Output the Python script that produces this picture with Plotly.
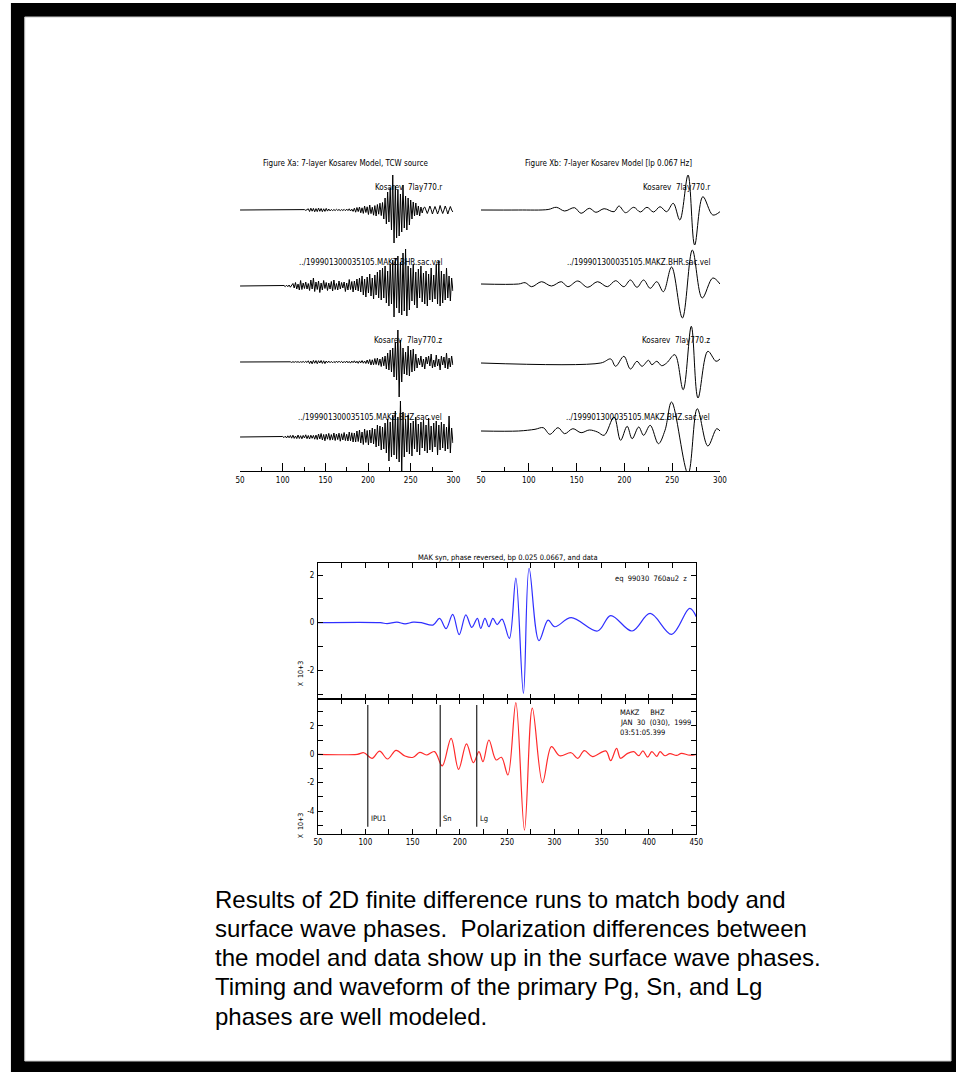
import numpy as np
import plotly.graph_objects as go

W, H = 963, 1072
def px(x): return x / W
def py(y): return 1 - y / H

FONT = "Liberation Sans Narrow, DejaVu Sans Condensed, Arial Narrow, sans-serif"

# ---------------- DATA ----------------
# Top-left broadband traces: samples every 1.5 s starting at 100 s (flat before)
bb_start, bb_dt = 100.0, 1.5
kos_r = [0, 0.3, -0.3, 0.2, -0.2, 0.3, -0.3, 0.2, -0.2, 0.3, -0.3, 0.2, -0.3, 0.3, -0.2, 0.3, -0.3, 0.4, -0.4, 0.5,
         1.2, -1.5, 1.8, -1.2, 1.6, -1.8, 1.4, -1.6, 1.9, -1.3, 1.5, -1.7, 1.2, -1.4, 1.6, -1.1, 1.0, -0.9,
         0.5, -0.6, 0.4, -0.5, 0.7, -0.4, 0.5, -0.6, 0.4, -0.5, 0.6, -0.7, 0.9, -0.6, 1.2, -1.0, 0.8, -1.4,
         1.8, -2.2, 2.5, -1.6, 3.0, -2.8, 2.2, -3.4, 4.0, -2.5, 3.2, -4.5, 5.0, -3.6, 2.8, -5.2, 4.4, -6.0, 5.5, -4.2, 6.8, -5.6, 7.5,
         -9, 12, -14, 18, -12, 22, -20, 35, -33, 24, -28, 20, -26, 16, -22, 25, -18, 14, -20, 12, -15, 10, -9,
         8, -6, 7, -5, 4, -6, 3, -3, 2,
         3, 0, -3.5, 0, 4, 0.5, -4, 0, 3.5, 0, -4, -0.5, 4.5, 0, -3.5, 0, 4, 0.5, -4, 0, 3.5, 0, -2]
mak_bhr = [0, 0.5, -0.6, 0.8, -0.7, 1.0, -1.2, 1.5,
           2.5, -2.0, 3.5, -3.0, 2.0, -4.0, 5.5, -3.5, 3.0, -2.5, 4.0, -3.0, 2.5,
           -4.5, 6.0, -3.0, 8.0, -5.5, 4.0, -3.5, 5.0, -6.5, 3.0, -4.0, 5.5, -2.5, 3.5, -4.5, 3.0, -3.0, 4.5, -5.0, 6.0,
           -3.5, 2.5, -4.0, 5.0, -3.0, 3.5, -2.0, 4.0, -5.5, 3.0, -4.0, 6.5, -3.5, 4.5, -6.0, 5.0, -4.0, 7.0, -5.0,
           8, -6, 10, -9, 7, -11, 9, -7, 12, -10, 8, -13, 11, -9, 14, -12,
           16, -14, 18, -12, 20, -17, 15, -20, 22, -18,
           26, -31, 28, -22, 30, -27, 24, -29, 33, -25, 37,
           -30, 20, -24, 18, -15, 22, -19, 14, -22, 17, -12, 20, -16, 13, -18, 15, -20, 12, -14, 18,
           -16, 11, -13, 22, -18, 25, -20, 15, -17, 12, -14, 18, -12, 10, -15, 8, -5]
kos_z = [0.2, -0.3, 0.3, -0.2, 0.4, -0.3, 0.2, -0.4, 0.3, -0.3, 0.4, -0.2, 0.3, -0.4, 0.3, -0.3, 0.5, -0.4, 0.6, -0.5,
         1.2, -1.5, 1.0, -1.8, 1.6, -1.2, 1.4, -1.7, 1.3, -1.0, 1.5, -1.4, 1.2, -1.6, 1.0, -0.8, 0.9, -0.7,
         0.6, -0.8, 0.5, -0.7, 0.9, -0.6, 0.8, -0.5, 0.7, -0.9, 0.6, -0.7, 1.0, -0.8, 0.6, -1.1, 0.9, -0.7, 1.2, -1.0,
         0.8, -1.3, 1.1, -0.9, 1.4, -1.2, 1.0, -1.5,
         2.0, -1.6, 2.5, -3.0, 2.2, -2.8, 3.5, -2.5, 4.0, -3.2, 3.0, -4.5, 5.0, -3.8, 6.0,
         -7, 9, -8, 12, -10, 14,
         -15, 20, -18, 32, -35, 22, -20,
         14, -12, 10, -13, 16,
         -14, 12, -10, 13, -9, 8,
         -6, 4, -3, 6, -5, 3, -7, 5, -2, 6, -4, 8, -6, 2, -5, 7, -4, 3, -8, 6, -3, 5, -6, 9, -7, 4, -5, 6, -3]
mak_bhz = [0.5, -0.6, 0.8, -1.0, 1.2, -0.8, 1.5, -1.2, 1.8, -1.4, 1.0, -1.6, 2.0, -1.5, 1.3, -1.8, 1.6, -1.0, 2.2, -1.7,
           1.5, -2.0, 1.8, -1.3, 1.6, -2.2, 1.9,
           -2.5, 3.0, -2.0, 3.5, -3.0, 2.5, -3.8, 2.8, -2.2, 3.6, -3.2, 2.4, -2.8, 4.0, -3.5, 3.0, -2.6, 3.8, -4.2, 3.2,
           -3.0, 4.5, -3.6, 2.8, -4.0, 5.0, -3.8, 4.2, -5.0, 4.0,
           -5, 6, -4.5, 7, -6, 5, -7.5, 8, -5.5, 6.5, -8, 7, -6, 9, -7, 8,
           -10, 12, -9, 11, -13, 10, -12, 14,
           -16, 18, -24, 15, -20, 22, -18, 26, -22, 20, -25, 36, -34,
           25, -20, 18, -15, 22, -17, 14, -19, 16, -12, 20, -15, 13, -18, 15, -11, 17, -14, 12, -16,
           19, -13, 11, -15, 14, -10, 16, -18, 12, -13, 15, -11, 13, -14, 10, -12, 21, -16, 9, -6]

# Top-right low-passed traces (time in s, amplitude)
lp_r_t = [50, 89.3, 120.2, 128.8, 137.5, 147.8, 154.7, 163.3, 170.2, 178.8, 189.2, 194.3, 201.2, 209.8, 216.7,
          223.6, 230.5, 237.3, 244.2, 251.1, 258.0, 266.6, 273.5, 282.1, 292.5, 300]
lp_r_v = [0, 0, 0.5, 2.7, -1.0, 2.3, -3.3, 1.7, -2.3, 1.3, -1.7, 4.0, -2.7, 2.7, -2.0,
          2.7, -2.0, 3.3, -1.7, 6.7, -10, 35, -35, 13.3, -5, -1.7]
lp_bhr_t = [50, 89.3, 96.2, 103.0, 113.3, 123.7, 134.0, 140.9, 151.2, 161.6, 171.9, 182.2, 190.8, 199.5, 206.3,
            213.2, 220.1, 227.0, 233.9, 240.8, 249.4, 260.7, 271.1, 281.4, 292.5, 300]
lp_bhr_v = [0, 0, 1.3, -2.7, 2.3, -2.0, 2.3, -2.7, 3.0, -3.3, 2.3, -2.7, 3.3, -2.7, 4.0,
            -3.3, 4.0, -4.3, 2.3, -7.7, 17, -34, 34, -14, 6, 0]
lp_z_t = [50, 175.3, 185.7, 190.8, 199.5, 206.3, 213.2, 218.4, 225.3, 228.7, 233.9, 239.0, 244.2, 252.8, 261.5,
          270.0, 277.0, 287.3, 295.9, 300]
lp_z_v = [0, 0, 4, -3.3, 6.7, -6, 1.7, -3.3, 2.7, -1.7, 1.7, -2.7, 0, 8.3, -26.7,
          36.7, -35, 11.7, 1.7, 4]
lp_bhz_t = [50, 89.3, 106.5, 115.1, 122.0, 130.6, 137.5, 146.1, 154.7, 163.3, 171.9, 178.8, 189.2, 196.0, 202.9,
            208.1, 215.0, 220.1, 227.0, 235.6, 242.5, 249.4, 266.6, 276.2, 287.3, 296.6, 300]
lp_bhz_v = [0, 0, 1.7, 3.3, -3.3, 3.3, -2.7, 2.3, -1.7, 1.0, -1.0, -4.3, 14, -9.3, 4.7,
            -7.7, 4.0, -4.3, 5.7, -12.7, 0.7, 29, -42.7, 22.3, -15, 2.3, 0]

# Bottom: synthetic (blue) and data (red), x 10^3
syn_t = [50, 115.8, 123.0, 133.4, 142.0, 150.6, 159.3, 171.5, 178.5, 185.4, 192.4, 199.3, 206.3, 212.6, 218.5,
         222.0, 226.5, 230.7, 234.9, 239.4, 244.6, 252.3, 259.2, 267.2, 273.2, 283.6, 293.3, 300.3, 317.7,
         345.6, 359.5, 382.1, 401.2, 423.9, 443.0, 450]
syn_v = [0, 0, -0.04, 0.02, -0.05, 0.02, 0, -0.1, 0.18, -0.25, 0.35, -0.5, 0.33, -0.2, 0.18,
         -0.24, 0.18, -0.17, 0.18, -0.08, 0.15, -0.66, 1.87, -2.97, 2.29, -0.76, 0.11, -0.17, 0.21,
         -0.35, 0.3, -0.35, 0.39, -0.49, 0.6, 0.25]
dat_t = [50, 91.4, 98.4, 107.1, 115.1, 123.5, 132.5, 141.9, 150.6, 157.6, 164.6, 173.2, 181.3, 190.7, 198.6,
         207.0, 214.3, 220.2, 224.4, 230.7, 238.3, 243.9, 250.8, 259.2, 268.3, 276.6, 287.4, 296.8, 305.5,
         317.7, 324.7, 331.6, 340.3, 354.3, 359.5, 365.7, 369.9, 376.9, 383.9, 389.1, 393.6, 398.5, 403.0,
         408.2, 411.7, 416.9, 422.1, 429.1, 434.3, 443.0, 450]
dat_v = [0, 0, 0.11, -0.28, 0.23, -0.33, 0.28, -0.12, -0.21, 0.14, -0.05, 0.19, -0.82, 1.13, -1.06,
         0.73, -0.59, 0.19, -0.52, 1.01, -0.4, -0.21, -1.46, 3.65, -5.34, 3.25, -2.0, 0.54, -0.1,
         0.11, -0.28, 0.26, -0.16, 0.24, -0.45, 0.42, -0.28, 0.05, 0.19, -0.1, 0.24, -0.2, 0.19,
         -0.14, 0.19, -0.1, 0.05, -0.08, 0.07, -0.06, 0]
pick_times = [102.6, 179.2, 217.8]
pick_names = ["IPU1", "Sn", "Lg"]

top_tickvals = [50, 100, 150, 200, 250, 300]
top_ticktext = ["50", "100", "150", "200", "250", "300"]
bot_tickvals = list(range(50, 451, 25))
bot_ticktext = [str(v) if v % 50 == 0 else "" for v in bot_tickvals]
syn_yvals = [-3, -2, -1, 0, 1, 2]
syn_ytext = ["", "-2", "", "0", "", "2"]
dat_yvals = [-5, -4, -3, -2, -1, 0, 1, 2, 3]
dat_ytext = ["", "-4", "", "-2", "", "0", "", "2", ""]

left_labels = ["Kosarev  7lay770.r", "../199901300035105.MAKZ.BHR.sac.vel",
               "Kosarev  7lay770.z", "../199901300035105.MAKZ.BHZ.sac.vel"]

# ---------------- FIGURE ----------------
fig = go.Figure()

def bb_series(vals):
    t = bb_start + bb_dt * np.arange(len(vals))
    return np.concatenate([[50.0], t]), np.concatenate([[0.0], np.asarray(vals, float)])

left_sets = [kos_r, mak_bhr, kos_z, mak_bhz]
for i, vals in enumerate(left_sets):
    t, v = bb_series(vals)
    fig.add_trace(go.Scatter(x=t, y=v, mode="lines", line=dict(color="black", width=1),
                             xaxis="x", yaxis="y" if i == 0 else f"y{i+1}", showlegend=False))

right_sets = [(lp_r_t, lp_r_v), (lp_bhr_t, lp_bhr_v), (lp_z_t, lp_z_v), (lp_bhz_t, lp_bhz_v)]
for i, (t, v) in enumerate(right_sets):
    fig.add_trace(go.Scatter(x=t, y=v, mode="lines", line=dict(color="black", width=1, shape="spline", smoothing=1.0),
                             xaxis="x2", yaxis=f"y{i+5}", showlegend=False))

fig.add_trace(go.Scatter(x=syn_t, y=syn_v, mode="lines",
                         line=dict(color="#2f2fff", width=1.2, shape="spline", smoothing=1.0),
                         xaxis="x3", yaxis="y9", showlegend=False))
fig.add_trace(go.Scatter(x=dat_t, y=dat_v, mode="lines",
                         line=dict(color="#ff2a2a", width=1.2, shape="spline", smoothing=1.0),
                         xaxis="x4", yaxis="y10", showlegend=False))
for tp in pick_times:
    fig.add_trace(go.Scatter(x=[tp, tp], y=[-5.11, 3.48], mode="lines",
                             line=dict(color="#222", width=1.2), xaxis="x4", yaxis="y10", showlegend=False))

layout = dict(
    width=W, height=H, margin=dict(l=0, r=0, t=0, b=0),
    paper_bgcolor="white", plot_bgcolor="rgba(0,0,0,0)",
    font=dict(family=FONT, size=8, color="black"),
)

def top_x(d0, d1):
    return dict(domain=[px(d0), px(d1)], range=[50, 300], anchor="free", position=py(471),
                showline=True, linecolor="black", linewidth=1, ticks="inside", ticklen=8,
                tickwidth=1, tickcolor="black", tickvals=top_tickvals, ticktext=top_ticktext,
                minor=dict(tickvals=[75, 125, 175, 225, 275], ticklen=4, ticks="inside", tickcolor="black"),
                showgrid=False, zeroline=False, tickfont=dict(size=8, family=FONT), ticklabelstandoff=1)

layout["xaxis"] = top_x(238, 454)
layout["xaxis2"] = top_x(482, 724)

left_base = [210, 286, 362, 437]
right_base = [210, 284, 363, 431]
for i, b in enumerate(left_base + right_base):
    key = "yaxis" if i == 0 else f"yaxis{i+1}"
    layout[key] = dict(domain=[py(b + 40), py(b - 40)], range=[-40, 40], visible=False,
                       anchor="x" if i < 4 else "x2", fixedrange=True)

box = dict(showline=True, linecolor="black", linewidth=1, mirror="ticks", ticks="inside",
           ticklen=5, tickcolor="black", showgrid=False, zeroline=False)
layout["xaxis3"] = dict(box, domain=[px(317), px(700)], range=[50, 450], anchor="y9",
                        tickvals=bot_tickvals, ticktext=bot_ticktext, showticklabels=False)
layout["yaxis9"] = dict(box, domain=[py(699), py(563)], range=[-3.21, 2.51], anchor="x3",
                        tickvals=syn_yvals, ticktext=syn_ytext, tickfont=dict(size=8), ticklabelstandoff=1)
layout["xaxis4"] = dict(box, domain=[px(317), px(700)], range=[50, 450], anchor="y10",
                        tickvals=bot_tickvals, ticktext=bot_ticktext, tickfont=dict(size=8), ticklabelstandoff=0)
layout["yaxis10"] = dict(box, domain=[py(834), py(699)], range=[-5.62, 3.9], anchor="x4",
                         tickvals=dat_yvals, ticktext=dat_ytext, tickfont=dict(size=8), ticklabelstandoff=1)

ann = []
def A(text, x, y, size=8, xa="center", ya="middle", angle=0, family=FONT):
    ann.append(dict(text=text, x=px(x), y=py(y), xref="paper", yref="paper", showarrow=False,
                    xanchor=xa, yanchor=ya, textangle=angle, font=dict(size=size, family=family, color="black")))

A("Figure Xa: 7-layer Kosarev Model, TCW source", 345, 163, 8)
A("Figure Xb: 7-layer Kosarev Model [lp 0.067 Hz]", 611, 163, 8)
for lab, y in zip(left_labels, [187, 262, 340, 417]):
    A(lab, 445, y, 8, xa="right")
for lab, y in zip(left_labels, [187, 262, 340, 417]):
    A(lab, 716, y, 8, xa="right")

A("MAK syn, phase reversed, bp 0.025 0.0667, and data", 509, 557, 7.5)
A("eq  99030  760au2  z", 693, 578, 7.5, xa="right")
A("MAKZ     BHZ", 621, 712, 7.5, xa="left")
A("JAN  30  (030),  1999", 621, 722, 7.5, xa="left")
A("03:51:05.399", 621, 732, 7.5, xa="left")
A("X  10+3", 300, 673, 7, angle=-90)
A("X  10+3", 300, 825, 7, angle=-90)
pick_px = [369, 442, 479]
for name, x in zip(pick_names, pick_px):
    A(name, x, 818, 7.5, xa="left")

CAP = "Liberation Sans, Arial, Helvetica, sans-serif"
caption = ["Results of 2D finite difference runs to match body and",
           "surface wave phases.  Polarization differences between",
           "the model and data show up in the surface wave phases.",
           "Timing and waveform of the primary Pg, Sn, and Lg",
           "phases are well modeled."]
for i, line in enumerate(caption):
    A(line, 211, 899 + 29.3 * i, 24, xa="left", family=CAP)

layout["annotations"] = ann
layout["shapes"] = [
    dict(type="rect", xref="paper", yref="paper", x0=px(6), x1=px(963), y0=py(1072), y1=py(3),
         fillcolor="black", line=dict(width=0), layer="below"),
    dict(type="rect", xref="paper", yref="paper", x0=px(20), x1=px(958), y0=py(1061), y1=py(17),
         fillcolor="white", line=dict(width=1, color="#c8c8c8"), layer="below"),
]
fig.update_layout(**layout)
fig.write_html("out.html")
